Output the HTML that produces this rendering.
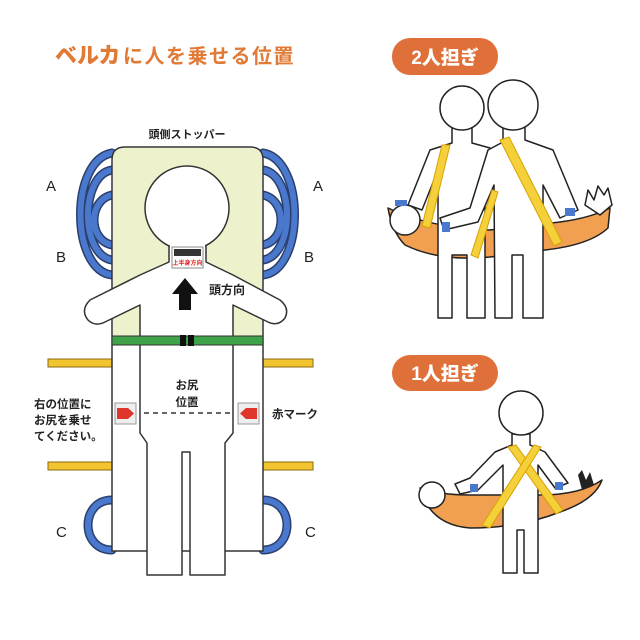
<!DOCTYPE html>
<html><head><meta charset="utf-8"><style>
html,body{margin:0;padding:0;background:#fff;}
svg{display:block;font-family:"Liberation Sans","Noto Sans CJK JP",sans-serif;}
</style></head><body>
<svg width="640" height="640" viewBox="0 0 640 640" xmlns="http://www.w3.org/2000/svg">
<!-- title -->
<text x="55" y="63" font-size="22" font-weight="900" fill="#e07a35">ベルカ</text>
<text x="123" y="63" font-size="20" font-weight="bold" letter-spacing="1.5" fill="#e07a35">に人を乗せる位置</text>
<text x="187" y="138" font-size="11" font-weight="bold" text-anchor="middle" fill="#222">頭側ストッパー</text>

<!-- blue loops -->
<g fill="none" stroke-linecap="round">
 <g stroke="#2a3f6e" stroke-width="9">
  <path d="M112,153 C70,160 70,270 112,275"/>
  <path d="M112,170 C80,175 80,255 112,260"/>
  <path d="M112,195 C88,200 88,240 112,245"/>
  <path d="M263,153 C305,160 305,270 263,275"/>
  <path d="M263,170 C295,175 295,255 263,260"/>
  <path d="M263,195 C287,200 287,240 263,245"/>
  <path d="M112,500 C80,500 80,550 112,550"/>
  <path d="M263,500 C295,500 295,550 263,550"/>
 </g>
 <g stroke="#4a78cc" stroke-width="6">
  <path d="M112,153 C70,160 70,270 112,275"/>
  <path d="M112,170 C80,175 80,255 112,260"/>
  <path d="M112,195 C88,200 88,240 112,245"/>
  <path d="M263,153 C305,160 305,270 263,275"/>
  <path d="M263,170 C295,175 295,255 263,260"/>
  <path d="M263,195 C287,200 287,240 263,245"/>
  <path d="M112,500 C80,500 80,550 112,550"/>
  <path d="M263,500 C295,500 295,550 263,550"/>
 </g>
</g>
<!-- yellow bars -->
<g fill="#f2c530" stroke="#8a6a10" stroke-width="1">
 <rect x="48" y="359" width="64" height="8"/><rect x="263" y="359" width="50" height="8"/>
 <rect x="48" y="462" width="64" height="8"/><rect x="263" y="462" width="50" height="8"/>
</g>
<!-- board -->
<path d="M112,160 Q112,147 125,147 L250,147 Q263,147 263,160 L263,551 L112,551 Z" fill="#fff" stroke="#333" stroke-width="1.5"/>
<path d="M113,160 Q113,148 125,148 L250,148 Q262,148 262,160 L262,336 L113,336 Z" fill="#eef2cc"/>
<!-- body -->
<g fill="#fff" stroke="#333" stroke-width="1.5" stroke-linejoin="round">
 <path d="M169,245 L169,262 L140,275 L90,300 Q80,310 88,320 Q95,327 105,322 L140,305 L140,433 L147,443 L147,575 L182,575 L182,452 L190,452 L190,575 L225,575 L225,443 L233,433 L233,305 L268,322 Q278,327 285,318 Q290,308 280,300 L233,275 L206,262 L206,245 Z"/>
 <circle cx="187" cy="208" r="42"/>
</g>
<rect x="170" y="240" width="35" height="10" fill="#fff"/>
<!-- label -->
<rect x="172" y="247" width="31" height="21" fill="#fff" stroke="#888" stroke-width="1"/>
<rect x="174" y="249" width="27" height="7" fill="#333"/>
<text x="187.5" y="265" font-size="6" font-weight="bold" fill="#d22" text-anchor="middle">上半身方向</text>
<!-- arrow -->
<path d="M185,278 L198,294 L191,294 L191,310 L179,310 L179,294 L172,294 Z" fill="#111"/>
<text x="209" y="294" font-size="12" font-weight="bold" fill="#222">頭方向</text>
<!-- belt -->
<rect x="112" y="336" width="151" height="9" fill="#3fa34a" stroke="#333" stroke-width="1"/>
<rect x="180" y="335" width="6" height="11" fill="#111"/><rect x="188" y="335" width="6" height="11" fill="#111"/>
<!-- red marks -->
<rect x="115" y="403" width="21" height="21" fill="#eee" stroke="#999"/>
<path d="M117,408 L128,408 L134,413.5 L128,419 L117,419 Z" fill="#e0352b"/>
<rect x="238" y="403" width="21" height="21" fill="#eee" stroke="#999"/>
<path d="M257,408 L246,408 L240,413.5 L246,419 L257,419 Z" fill="#e0352b"/>
<line x1="144" y1="413" x2="230" y2="413" stroke="#333" stroke-width="1.5" stroke-dasharray="5,4"/>
<g font-size="11.5" font-weight="bold" fill="#222">
 <text x="187" y="389" text-anchor="middle">お尻</text>
 <text x="187" y="406" text-anchor="middle">位置</text>
 <text x="34" y="408">右の位置に</text>
 <text x="34" y="424">お尻を乗せ</text>
 <text x="34" y="440">てください。</text>
 <text x="272" y="418">赤マーク</text>
</g>
<g font-size="15" fill="#222">
 <text x="46" y="191">A</text><text x="56" y="262">B</text><text x="56" y="537">C</text>
 <text x="313" y="191">A</text><text x="304" y="262">B</text><text x="305" y="537">C</text>
</g>

<!-- 2人担ぎ -->
<rect x="392" y="38" width="106" height="37" rx="18" fill="#e0703a"/>
<text x="445" y="64" font-size="19" font-weight="900" fill="#fff" text-anchor="middle">2人担ぎ</text>
<g stroke="#222" stroke-width="1.5" stroke-linejoin="round">
 <path d="M388,208 Q430,228 490,230 L560,222 Q590,218 610,208 L608,228 Q590,245 545,250 L490,257 Q440,262 405,245 Q392,232 388,208 Z" fill="#f0a050"/>
 <path d="M452,128 L452,143 L430,150 L408,205 L422,210 L438,170 L438,318 L452,318 L452,255 L467,255 L467,318 L485,318 L485,170 L492,165 L490,148 L472,143 L472,128 Z" fill="#fff"/>
 <circle cx="462" cy="108" r="22" fill="#fff"/>
 <circle cx="405" cy="220" r="15" fill="#fff"/>
 <path d="M585,205 L588,190 L594,200 L598,186 L604,195 L608,188 L612,205 L600,215 Z" fill="#fff"/>
 <path d="M503,127 L503,142 L488,150 L470,208 L440,218 L444,230 L478,222 L494,185 L495,318 L512,318 L512,255 L523,255 L523,318 L543,318 L543,185 L560,218 L578,210 L553,150 L525,140 L525,127 Z" fill="#fff"/>
 <circle cx="513" cy="105" r="25" fill="#fff"/>
</g>
<g fill="#4a78cc">
 <rect x="395" y="200" width="12" height="6"/><rect x="442" y="222" width="8" height="10"/><rect x="565" y="208" width="10" height="8"/>
</g>
<g stroke="#d9a000" stroke-width="1" fill="#f4d03a">
 <path d="M442,145 L450,145 L430,228 L422,226 Z"/>
 <path d="M500,140 L509,137 L562,242 L554,246 Z"/>
 <path d="M492,190 L498,192 L478,258 L471,255 Z"/>
</g>

<!-- 1人担ぎ -->
<rect x="392" y="355" width="106" height="36" rx="18" fill="#e0703a"/>
<text x="445" y="380" font-size="19" font-weight="900" fill="#fff" text-anchor="middle">1人担ぎ</text>
<g fill="#fff" stroke="#222" stroke-width="1.5" stroke-linejoin="round">
 <path d="M420,488 Q430,525 470,528 Q520,528 560,512 Q595,500 602,480 Q580,495 540,495 L470,495 Q440,495 420,488 Z" fill="#f0a050"/>
 <circle cx="432" cy="495" r="13"/>
 <path d="M512,434 L512,445 L495,452 L470,478 L455,484 L460,494 L478,490 L503,465 L503,573 L517,573 L517,530 L524,530 L524,573 L538,573 L538,465 L555,488 L568,483 L545,452 L530,445 L530,434 Z"/>
 <circle cx="521" cy="413" r="22"/>
</g>
<path d="M578,475 L582,470 L586,480 L590,472 L594,485 L582,490 Z" fill="#222"/>
<g fill="#4a78cc"><rect x="470" y="484" width="8" height="8"/><rect x="555" y="482" width="8" height="8"/></g>
<g stroke="#d9a000" stroke-width="1" fill="#f4d03a">
 <path d="M508,447 L516,445 L563,510 L556,514 Z"/>
 <path d="M534,445 L541,447 L490,528 L482,525 Z"/>
</g>
</svg>
</body></html>
